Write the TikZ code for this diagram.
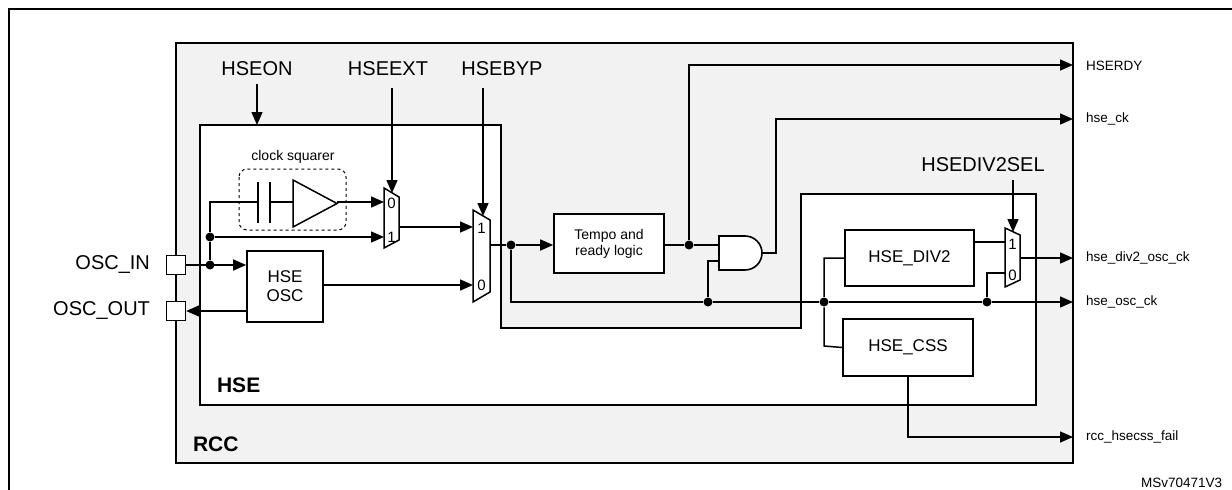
\documentclass[tikz,border=0pt]{standalone}
\usepackage{fontspec}
\setmainfont{Liberation Sans}
\usetikzlibrary{arrows.meta}
\begin{document}
\begin{tikzpicture}[x=1pt,y=-1pt,
  line width=1.5pt,
  arr/.style={-{Triangle[length=13pt,width=11pt]}},
  box/.style={draw,fill=white,line width=1.6pt,inner sep=0pt,align=center},
  dot/.style={circle,fill=black,inner sep=0pt,minimum size=9pt},
  big/.style={font=\fontsize{20}{22}\selectfont},
  mid/.style={font=\fontsize{17}{19}\selectfont},
  sm/.style={font=\fontsize{14}{16}\selectfont},
  lab/.style={font=\fontsize{13.5}{15}\selectfont,anchor=west},
  muxlbl/.style={font=\fontsize{15}{15}\selectfont,inner sep=0pt}]
\useasboundingbox (0,0) rectangle (1232,490);
% outer frame
\draw[line width=2pt] (9,500) -- (9,9) -- (1240,9);
% RCC
\draw[fill=black!5,line width=1.8pt] (176,43) rectangle (1073,463);
\node[font=\fontsize{21}{22}\selectfont\bfseries,anchor=base west] (rcc) at (189,451) {RCC};
% HSE
\draw[fill=white,line width=1.3pt] (200,125) -- (501,125) -- (501,328) -- (801,328) -- (801,194) -- (1036,194) -- (1036,405) -- (200,405) -- cycle;
\node[font=\fontsize{21}{22}\selectfont\bfseries,anchor=base west] (hse) at (213,392) {HSE};
% pads
\node[box,minimum size=19pt,line width=1.4pt] (oscin) at (176,265) {};
\node[box,minimum size=19pt,line width=1.4pt] (oscout) at (176,311) {};
\node[big,anchor=east] at (154,265) {OSC\_IN};
\node[big,anchor=east] at (154,311) {OSC\_OUT};
% HSE OSC
\node[box,minimum width=76pt,minimum height=71pt,mid] (hseosc) at (285,286.5) {HSE\\OSC};
\node[dot] (j1) at (210,265) {};
\node[dot] (j2) at (210,237) {};
\draw[arr] (oscin) -- (hseosc.west |- oscin);
\draw[arr] (hseosc.west |- oscout) -- (oscout);
\draw (j1) -- (j2) -- (210,202) -- (258,202);
% clock squarer
\draw[dashed,rounded corners=8pt,line width=1pt] (239,169) rectangle (346,230);
\node[sm] (csq) at (293,157) {clock squarer};
\draw[line width=2.2pt] (258,182) -- (258,223) (270,182) -- (270,223);
\draw (270,202) -- (293,202);
\draw (293,180) -- (337,203.5) -- (293,227) -- cycle;
% mux1
\coordinate (m1in0) at (384,202);
\coordinate (m1in1) at (384,237);
\coordinate (m1out) at (399,227);
\draw (384,188) -- (399,197) -- (399,240) -- (384,248) -- cycle;
\node[muxlbl] at (391.5,203) {0};
\node[muxlbl] at (391.5,237) {1};
\draw[arr] (337,202) -- (m1in0);
\draw[arr] (j2) -- (m1in1);
% mux2
\coordinate (m2in1) at (473,227);
\coordinate (m2in0) at (473,285);
\coordinate (m2out) at (490,245);
\draw (473,210) -- (490,220) -- (490,292) -- (473,302) -- cycle;
\node[muxlbl] at (481.5,228) {1};
\node[muxlbl] at (481.5,285) {0};
\draw[arr] (m1out) -- (m2in1);
\draw[arr] (hseosc.east |- m2in0) -- (m2in0);
% top controls
\node[big] (hseon) at (257,69) {HSEON};
\node[big] (hseext) at (388,69) {HSEEXT};
\node[big] (hsebyp) at (502,69) {HSEBYP};
\draw[arr] (257,84) -- (257,125);
\draw[arr] (392,88) -- (392,193);
\draw[arr] (483,88) -- (483,216);
% tempo
\node[box,minimum width=110pt,minimum height=59pt,sm] (tempo) at (609,243.5) {Tempo and\\ready logic};
\node[dot] (j3) at (511,245) {};
\draw (m2out) -- (j3);
\draw[arr] (j3) -- (tempo.west |- j3);
\node[dot] (j4) at (689,245) {};
\draw (tempo.east |- j4) -- (j4);
% AND gate
\draw[fill=white,line width=1.6pt] (719,236) -- (745,236) arc (-90:90:17) -- (719,270) -- cycle;
\coordinate (andout) at (762,253);
\draw (j4) -- (719,245);
\node[dot] (j5) at (708,302) {};
\draw (719,261) -- (708,261) -- (j5);
% HSERDY, hse_ck
\draw[arr] (j4) -- (689,65) -- (1073,65);
\draw[arr] (andout) -- (776,253) -- (776,119) -- (1073,119);
\node[lab] (l1) at (1082,66) {HSERDY};
\node[lab] (l2) at (1082,119) {hse\_ck};
% bottom bus
\node[dot] (j6) at (824,302) {};
\node[dot] (j7) at (987,302) {};
\draw (j3) -- (511,302) -- (j5) -- (j6) -- (j7);
\draw[arr] (j7) -- (1073,302);
\node[lab] (l4) at (1082,302) {hse\_osc\_ck};
% HSE_DIV2 / CSS
\node[box,minimum width=129pt,minimum height=56pt,mid] (div2) at (909.5,258) {HSE\_DIV2};
\node[box,minimum width=130pt,minimum height=57pt,mid] (css) at (908,347.5) {HSE\_CSS};
\draw (div2.west) -- (824,258) -- (j6) -- (824,346) -- (css.west);
% mux3
\coordinate (m3in1) at (1005,242);
\coordinate (m3in0) at (1005,273);
\coordinate (m3out) at (1020,258);
\draw (1005,228) -- (1020,235) -- (1020,280) -- (1005,287) -- cycle;
\node[muxlbl] at (1012.5,244) {1};
\node[muxlbl] at (1012.5,275) {0};
\draw (div2.east |- m3in1) -- (m3in1);
\draw (j7) -- (987,273) -- (m3in0);
\draw[arr] (m3out) -- (1073,258);
\node[lab] (l3) at (1082,258) {hse\_div2\_osc\_ck};
\node[big] (sel) at (983,165) {HSEDIV2SEL};
\draw[arr] (1013,180) -- (1013,232);
% css fail
\draw[arr] (css.south) -- (908,437) -- (1073,437);
\node[lab] (l5) at (1082,437) {rcc\_hsecss\_fail};
\node[font=\fontsize{13.5}{15}\selectfont,anchor=west] (ms) at (1137,483) {MSv70471V3};
\end{tikzpicture}
\end{document}
